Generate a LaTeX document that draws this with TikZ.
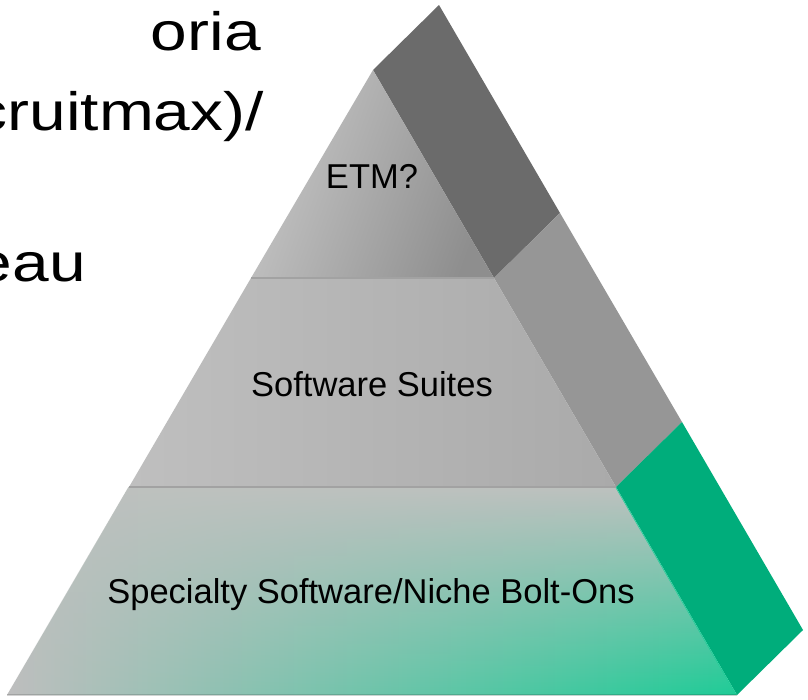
\documentclass[tikz,border=0pt]{standalone}
\usepackage{fontspec}
\setmainfont{Liberation Sans}
\usepackage{graphicx}
\usetikzlibrary{fadings}

% side faces of the pyramid
\definecolor{sidedark}{HTML}{6B6B6B}
\definecolor{sidemid}{HTML}{969696}
\definecolor{sidegreen}{HTML}{00AD7B}
% front tiers
\definecolor{toptierL}{HTML}{C6C6C6}
\definecolor{toptierR}{HTML}{8E8E8E}
\definecolor{midtierL}{HTML}{BFBFBF}
\definecolor{midtierR}{HTML}{AAAAAA}
\definecolor{seam}{HTML}{A2A2A2}
% base tier: gray that turns green towards the lower right corner
\definecolor{baseL}{HTML}{BEBEBE}
\definecolor{baseM}{HTML}{A6C8B8}
\definecolor{baseR}{HTML}{1ECC97}
\definecolor{baseTop}{HTML}{BEC1BF}

% opaque along the top, clear along the bottom
\tikzfading[name=fadedown,
  top color=transparent!0, middle color=transparent!45,
  bottom color=transparent!100]

\tikzset{
  bigline/.style={anchor=base east, inner sep=0pt,
    font=\fontsize{54}{60}\selectfont},
  tierlabel/.style={anchor=base, inner sep=0pt,
    font=\fontsize{34.5}{40}\selectfont},
  seamline/.style={draw=seam, line width=1.6pt},
}

\begin{document}
\begin{tikzpicture}[x=1pt,y=1pt]
\useasboundingbox (0,0) rectangle (808,-699);
\clip (0,0) rectangle (808,-699);
\fill[white] (0,0) rectangle (808,-699);

% front face corners
\coordinate (apex) at (373,-70);
\coordinate (L1) at (251,-278);
\coordinate (R1) at (494,-278);
\coordinate (L2) at (129,-487);
\coordinate (R2) at (616,-487);
\coordinate (L3) at (7,-695);
\coordinate (R3) at (737,-695);
% back edge of the side face
\coordinate (B0) at (439,-5);
\coordinate (B1) at (560,-213);
\coordinate (B2) at (682,-422);
\coordinate (B3) at (803,-630);

% side face bands
\fill[sidedark]  (apex) -- (B0) -- (B1) -- (R1) -- cycle;
\fill[sidemid]   (R1) -- (B1) -- (B2) -- (R2) -- cycle;
\fill[sidegreen] (R2) -- (B2) -- (B3) -- (R3) -- cycle;

% front tiers
\shade[top color=toptierL, bottom color=toptierR, shading angle=70]
  (apex) -- (R1) -- (L1) -- cycle;
\shade[left color=midtierL, right color=midtierR]
  (L1) -- (R1) -- (R2) -- (L2) -- cycle;
\shade[left color=baseL, middle color=baseM, right color=baseR]
  (L2) -- (R2) -- (R3) -- (L3) -- cycle;
\fill[baseTop, path fading=fadedown]
  (L2) -- (R2) -- (R3) -- (L3) -- cycle;

% tier seams and base edge
\path[seamline] (L1) -- (R1);
\path[seamline] (L2) -- (R2);
\draw[black, opacity=0.14, line width=2pt] (L3) -- (R3);

% tier labels
\node[tierlabel] (etm)   at (372,-188) {ETM?};
\node[tierlabel] (suite) at (372,-396) {Software Suites};
\node[tierlabel] (niche) at (371,-603) {Specialty Software/Niche Bolt-Ons};

% slide text running in from the left
\node[bigline] (lineA) at (261,-50)  {\scalebox{1.22}[1]{oria}};
\node[bigline] (lineB) at (264,-130) {\scalebox{1.22}[1]{cruitmax)/}};
\node[bigline] (lineC) at (86,-281)  {\scalebox{1.22}[1]{eau}};
\end{tikzpicture}
\end{document}
